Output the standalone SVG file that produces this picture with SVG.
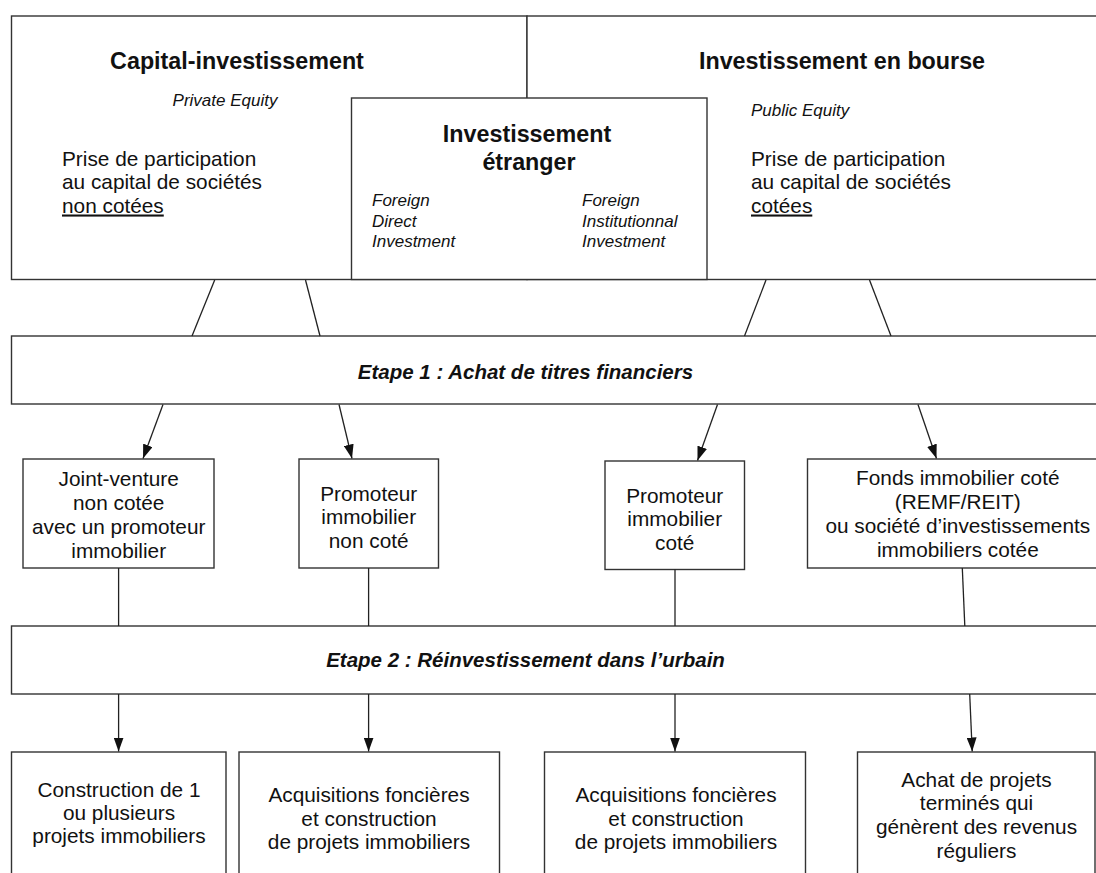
<svg xmlns="http://www.w3.org/2000/svg" width="1096" height="873" viewBox="0 0 1096 873">
<defs>
<marker id="ah" viewBox="0 0 14 10" markerWidth="14" markerHeight="10" refX="14" refY="5" orient="auto" markerUnits="userSpaceOnUse">
<path d="M0,0 L14,5 L0,10 z" fill="#111"/>
</marker>
<style>
.box{fill:#fff;stroke:#333;stroke-width:1.4}
.ln{fill:none;stroke:#222;stroke-width:1.3}
.arr{fill:none;stroke:#222;stroke-width:1.3;marker-end:url(#ah)}
text{font-family:"Liberation Sans",Arial,Helvetica,sans-serif;fill:#111}
.ttl{font-size:23.3px;font-weight:bold}
.it{font-size:17px;font-style:italic}
.bd{font-size:20.8px}
.c{text-anchor:middle}
.et{font-size:20.5px;font-weight:bold;font-style:italic}
.u{text-decoration:underline}
</style>
</defs>
<rect width="1096" height="873" fill="#fff"/>

<g id="capital-investissement">
<rect class="box" x="11.5" y="16" width="515.5" height="263.5"/>
<text class="ttl c" x="237" y="69">Capital-investissement</text>
<text class="it c" x="225" y="106">Private Equity</text>
<text class="bd" x="62" y="165.5">Prise de participation</text>
<text class="bd" x="62" y="189">au capital de sociétés</text>
<text class="bd u" x="62" y="212.5">non cotées</text>
</g>

<g id="investissement-bourse">
<rect class="box" x="527" y="16" width="580" height="263.5"/>
<text class="ttl c" x="842" y="69">Investissement en bourse</text>
<text class="it" x="751" y="116">Public Equity</text>
<text class="bd" x="751" y="165.5">Prise de participation</text>
<text class="bd" x="751" y="189">au capital de sociétés</text>
<text class="bd u" x="751" y="212.5">cotées</text>
</g>

<g id="investissement-etranger">
<rect class="box" x="351.5" y="98" width="355.5" height="181.5"/>
<text class="ttl c" x="527" y="142">Investissement</text>
<text class="ttl c" x="529" y="170">étranger</text>
<text class="it" x="372" y="206">Foreign</text>
<text class="it" x="372" y="226.5">Direct</text>
<text class="it" x="372" y="247">Investment</text>
<text class="it" x="582" y="206">Foreign</text>
<text class="it" x="582" y="226.5">Institutionnal</text>
<text class="it" x="582" y="247">Investment</text>
</g>

<g id="etape1">
<rect class="box" x="11.5" y="336" width="1100" height="68"/>
<text class="et c" x="525.5" y="379">Etape 1 : Achat de titres financiers</text>
</g>

<g id="joint-venture">
<rect class="box" x="23" y="459" width="191" height="109"/>
<text class="bd c" x="118.7" y="486">Joint-venture</text>
<text class="bd c" x="118.7" y="510">non cotée</text>
<text class="bd c" x="118.7" y="533.5">avec un promoteur</text>
<text class="bd c" x="118.7" y="557.5">immobilier</text>
</g>

<g id="promoteur-non-cote">
<rect class="box" x="299" y="459" width="139.5" height="109"/>
<text class="bd c" x="368.7" y="500.7">Promoteur</text>
<text class="bd c" x="368.7" y="524.3">immobilier</text>
<text class="bd c" x="368.7" y="547.5">non coté</text>
</g>

<g id="promoteur-cote">
<rect class="box" x="605" y="461" width="139.5" height="108.5"/>
<text class="bd c" x="674.7" y="503.3">Promoteur</text>
<text class="bd c" x="674.7" y="526.3">immobilier</text>
<text class="bd c" x="674.7" y="549.5">coté</text>
</g>

<g id="fonds-immobilier">
<rect class="box" x="807.5" y="459" width="300" height="109"/>
<text class="bd c" x="957.8" y="485">Fonds immobilier coté</text>
<text class="bd c" x="957.8" y="509.3">(REMF/REIT)</text>
<text class="bd c" x="957.8" y="533.3">ou société d’investissements</text>
<text class="bd c" x="957.8" y="556.7">immobiliers cotée</text>
</g>

<g id="etape2">
<rect class="box" x="11.5" y="626" width="1100" height="68"/>
<text class="et c" x="525.5" y="666.7">Etape 2 : Réinvestissement dans l’urbain</text>
</g>

<g id="construction">
<rect class="box" x="11.5" y="752" width="214.5" height="140"/>
<text class="bd c" x="119" y="796.7">Construction de 1</text>
<text class="bd c" x="119" y="820">ou plusieurs</text>
<text class="bd c" x="119" y="843.3">projets immobiliers</text>
</g>

<g id="acquisitions-1">
<rect class="box" x="239" y="752" width="260.5" height="140"/>
<text class="bd c" x="369" y="802.3">Acquisitions foncières</text>
<text class="bd c" x="369" y="826">et construction</text>
<text class="bd c" x="369" y="849.3">de projets immobiliers</text>
</g>

<g id="acquisitions-2">
<rect class="box" x="544.5" y="752" width="261" height="140"/>
<text class="bd c" x="676" y="802.3">Acquisitions foncières</text>
<text class="bd c" x="676" y="826">et construction</text>
<text class="bd c" x="676" y="849.3">de projets immobiliers</text>
</g>

<g id="achat-projets">
<rect class="box" x="857.5" y="752" width="237.5" height="140"/>
<text class="bd c" x="976.5" y="787.3">Achat de projets</text>
<text class="bd c" x="976.5" y="810.3">terminés qui</text>
<text class="bd c" x="976.5" y="834.3">génèrent des revenus</text>
<text class="bd c" x="976.5" y="857.7">réguliers</text>
</g>

<g id="connectors">
<line class="ln" x1="214.7" y1="280" x2="192" y2="336"/>
<line class="ln" x1="305.5" y1="280" x2="320" y2="336"/>
<line class="ln" x1="766" y1="280" x2="744.5" y2="336"/>
<line class="ln" x1="869.5" y1="280" x2="891" y2="336"/>
<line class="arr" x1="163" y1="404.5" x2="143" y2="458.5"/>
<line class="arr" x1="339" y1="404.5" x2="352" y2="458.5"/>
<line class="arr" x1="717.5" y1="404.5" x2="697.5" y2="460.5"/>
<line class="arr" x1="918" y1="404.5" x2="936.5" y2="458.5"/>
<line class="ln" x1="118.6" y1="568" x2="118.6" y2="626"/>
<line class="ln" x1="368.6" y1="568" x2="368.6" y2="626"/>
<line class="ln" x1="675" y1="569.5" x2="675" y2="626"/>
<line class="ln" x1="962.3" y1="568" x2="964.8" y2="626"/>
<line class="arr" x1="118.6" y1="694" x2="118.6" y2="751.5"/>
<line class="arr" x1="368.6" y1="694" x2="368.6" y2="751.5"/>
<line class="arr" x1="675" y1="694" x2="675" y2="751.5"/>
<line class="arr" x1="969.7" y1="694" x2="972.2" y2="751.5"/>
</g>
</svg>
